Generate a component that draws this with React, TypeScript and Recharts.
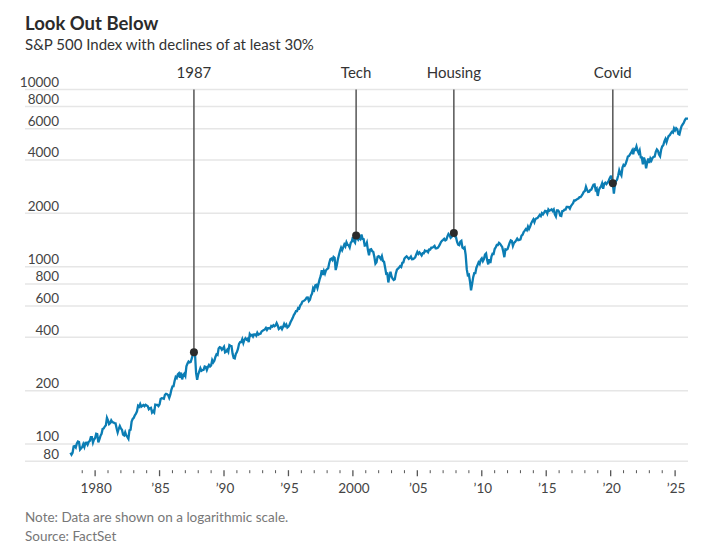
import {
  LineChart,
  Line,
  XAxis,
  YAxis,
  CartesianGrid,
  ReferenceLine,
  ReferenceDot,
} from "recharts";

// S&P 500 month-end closes, starting January 1978
const closes1978to1979 = [
  89.25, 87.04, 89.21, 96.83, 97.24, 95.53, 100.68, 103.29, 102.54, 93.15, 94.7, 96.11,
  99.93, 96.28, 101.59, 101.76, 99.08, 102.91, 103.81, 109.32, 109.32, 101.82, 106.16, 107.94,
];

const closes1980s = [
  114.16, 113.66, 102.09, 106.29, 111.24, 114.24, 121.67, 122.38, 125.46, 127.47, 140.52, 135.76,
  129.55, 131.27, 136.0, 132.81, 132.59, 131.21, 130.92, 122.79, 116.18, 121.89, 126.35, 122.55,
  120.4, 113.11, 111.96, 116.44, 111.88, 109.61, 107.09, 119.51, 120.42, 133.71, 138.54, 140.64,
  145.3, 148.06, 152.96, 164.42, 162.39, 168.11, 162.56, 164.4, 166.07, 163.55, 166.4, 164.93,
  163.41, 157.06, 159.18, 160.05, 150.55, 153.18, 150.66, 166.68, 166.1, 166.09, 163.58, 167.24,
  179.63, 181.18, 180.66, 179.83, 189.55, 191.85, 190.92, 188.63, 182.08, 189.82, 202.17, 211.28,
  211.78, 226.92, 238.9, 235.52, 247.35, 250.84, 236.12, 252.93, 231.32, 243.98, 249.22, 242.17,
  274.08, 284.2, 291.7, 288.36, 290.1, 304.0, 318.66, 329.8, 321.83, 251.79, 230.3, 247.08,
  257.07, 267.82, 258.89, 261.33, 262.16, 273.5, 272.02, 261.52, 271.91, 278.97, 273.7, 277.72,
  297.47, 288.86, 294.87, 309.64, 320.52, 317.98, 346.08, 351.45, 349.15, 340.36, 345.99, 353.4,
];

const closes1990s = [
  329.08, 331.89, 339.94, 330.8, 361.23, 358.02, 356.15, 322.56, 306.05, 304.0, 322.22, 330.22,
  343.93, 367.07, 375.22, 375.35, 389.83, 371.16, 387.81, 395.43, 387.86, 392.46, 375.22, 417.09,
  408.79, 412.7, 403.69, 414.95, 415.35, 408.14, 424.21, 414.03, 417.8, 418.68, 431.35, 435.71,
  438.78, 443.38, 451.67, 440.19, 450.19, 450.53, 448.13, 463.56, 458.93, 467.83, 461.79, 466.45,
  481.61, 467.14, 445.77, 450.91, 456.5, 444.27, 458.26, 475.49, 462.69, 472.35, 453.69, 459.27,
  470.42, 487.39, 500.71, 514.71, 533.4, 544.75, 562.06, 561.88, 584.41, 581.5, 605.37, 615.93,
  636.02, 640.43, 645.5, 654.17, 669.12, 670.63, 639.95, 651.99, 687.31, 705.27, 757.02, 740.74,
  786.16, 790.82, 757.12, 801.34, 848.28, 885.14, 954.29, 899.47, 947.28, 914.62, 955.4, 970.43,
  980.28, 1049.34, 1101.75, 1111.75, 1090.82, 1133.84, 1120.67, 957.28, 1017.01, 1098.67, 1163.63, 1229.23,
  1279.64, 1238.33, 1286.37, 1335.18, 1301.84, 1372.71, 1328.72, 1320.41, 1282.71, 1362.93, 1388.91, 1469.25,
];

const closes2000s = [
  1394.46, 1366.42, 1498.58, 1452.43, 1420.6, 1454.6, 1430.83, 1517.68, 1436.51, 1429.4, 1314.95, 1320.28,
  1366.01, 1239.94, 1160.33, 1249.46, 1255.82, 1224.42, 1211.23, 1133.58, 1040.94, 1059.78, 1139.45, 1148.08,
  1130.2, 1106.73, 1147.39, 1076.92, 1067.14, 989.82, 911.62, 916.07, 815.28, 885.76, 936.31, 879.82,
  855.7, 841.15, 848.18, 916.92, 963.59, 974.5, 990.31, 1008.01, 995.97, 1050.71, 1058.2, 1111.92,
  1131.13, 1144.94, 1126.21, 1107.3, 1120.68, 1140.84, 1101.72, 1104.24, 1114.58, 1130.2, 1173.82, 1211.92,
  1181.27, 1203.6, 1180.59, 1156.85, 1191.5, 1191.33, 1234.18, 1220.33, 1228.81, 1207.01, 1249.48, 1248.29,
  1280.08, 1280.66, 1294.83, 1310.61, 1270.09, 1270.2, 1276.66, 1303.82, 1335.85, 1377.94, 1400.63, 1418.3,
  1438.24, 1406.82, 1420.86, 1482.37, 1530.62, 1503.35, 1455.27, 1473.99, 1526.75, 1549.38, 1481.14, 1468.36,
  1378.55, 1330.63, 1322.7, 1385.59, 1400.38, 1280.0, 1267.38, 1282.83, 1166.36, 968.75, 896.24, 903.25,
  825.88, 735.09, 797.87, 872.81, 919.14, 919.32, 987.48, 1020.62, 1057.08, 1036.19, 1095.63, 1115.1,
];

const closes2010s = [
  1073.87, 1104.49, 1169.43, 1186.69, 1089.41, 1030.71, 1101.6, 1049.33, 1141.2, 1183.26, 1180.55, 1257.64,
  1286.12, 1327.22, 1325.83, 1363.61, 1345.2, 1320.64, 1292.28, 1218.89, 1131.42, 1253.3, 1246.96, 1257.6,
  1312.41, 1365.68, 1408.47, 1397.91, 1310.33, 1362.16, 1379.32, 1406.58, 1440.67, 1412.16, 1416.18, 1426.19,
  1498.11, 1514.68, 1569.19, 1597.57, 1630.74, 1606.28, 1685.73, 1632.97, 1681.55, 1756.54, 1805.81, 1848.36,
  1782.59, 1859.45, 1872.34, 1883.95, 1923.57, 1960.23, 1930.67, 2003.37, 1972.29, 2018.05, 2067.56, 2058.9,
  1994.99, 2104.5, 2067.89, 2085.51, 2107.39, 2063.11, 2103.84, 1972.18, 1920.03, 2079.36, 2080.41, 2043.94,
  1940.24, 1932.23, 2059.74, 2065.3, 2096.95, 2098.86, 2173.6, 2170.95, 2168.27, 2126.15, 2198.81, 2238.83,
  2278.87, 2363.64, 2362.72, 2384.2, 2411.8, 2423.41, 2470.3, 2471.65, 2519.36, 2575.26, 2647.58, 2673.61,
  2823.81, 2713.83, 2640.87, 2648.05, 2705.27, 2718.37, 2816.29, 2901.52, 2913.98, 2711.74, 2760.17, 2506.85,
  2704.1, 2784.49, 2834.4, 2945.83, 2752.06, 2941.76, 2980.38, 2926.46, 2976.74, 3037.56, 3140.98, 3230.78,
];

const closes2020s = [
  3225.52, 2954.22, 2584.59, 2912.43, 3044.31, 3100.29, 3271.12, 3500.31, 3363.0, 3269.96, 3621.63, 3756.07,
  3714.24, 3811.15, 3972.89, 4181.17, 4204.11, 4297.5, 4395.26, 4522.68, 4307.54, 4605.38, 4567.0, 4766.18,
  4515.55, 4373.94, 4530.41, 4131.93, 4132.15, 3785.38, 4130.29, 3955.0, 3585.62, 3871.98, 4080.11, 3839.5,
  4076.6, 3970.15, 4109.31, 4169.48, 4179.83, 4450.38, 4588.96, 4507.66, 4288.05, 4193.8, 4567.8, 4769.83,
  4845.65, 5096.27, 5254.35, 5035.69, 5277.51, 5460.48, 5522.3, 5648.4, 5762.48, 5705.45, 6032.38, 5881.63,
  6040.53, 5954.5, 5611.85, 5569.06, 5911.69, 6204.95, 6339.39, 6460.26, 6688.46, 6840.2, 6849.09, 6845.5,
];

const startYear = 1978;

const yTicks = [80, 100, 200, 400, 600, 800, 1000, 2000, 4000, 6000, 8000, 10000];
const tickYears = Array.from({ length: 2025 - 1979 + 1 }, (_, i) => 1979 + i);

const events = [
  { label: "1987", year: 1987, month: 8 },
  { label: "Tech", year: 2000, month: 3 },
  { label: "Housing", year: 2007, month: 10 },
  { label: "Covid", year: 2020, month: 2 },
];

const closes = [
  ...closes1978to1979,
  ...closes1980s,
  ...closes1990s,
  ...closes2000s,
  ...closes2010s,
  ...closes2020s,
];

// x = year + month/12, so each close sits at the end of its month
const data = closes.map((v, i) => ({ t: startYear + (i + 1) / 12, v }));

const eventPoints = events.map((e) => {
  const p = data[(e.year - startYear) * 12 + e.month - 1];
  return { ...e, t: p.t, v: p.v };
});

const FONT = "Lato, 'Noto Sans', sans-serif";
const BLUE = "#0b7db4";

function yearLabel(y: number) {
  if (y === 1980 || y === 2000) return String(y);
  return "\u2019" + String(y).slice(2);
}

function XTick({ x, y, payload }: any) {
  const yr = payload.value;
  const major = yr % 5 === 0;
  return (
    <g>
      <line
        x1={x}
        x2={x}
        y1={y + 9}
        y2={major ? y + 15 : y + 12}
        stroke="#555"
        strokeWidth={major ? 1.3 : 1}
      />
      {major && (
        <text
          x={x + 1}
          y={y + 31.5}
          textAnchor="middle"
          fontSize={13.5}
          fontFamily={FONT}
          fill="#444"
        >
          {yearLabel(yr)}
        </text>
      )}
    </g>
  );
}

function YTick({ x, y, payload }: any) {
  return (
    <text
      x={x + 34}
      y={y - 2.6}
      textAnchor="end"
      fontSize={13.5}
      fontFamily={FONT}
      fill="#444"
    >
      {payload.value}
    </text>
  );
}

export default function App() {
  return (
    <div
      style={{
        position: "absolute",
        left: 0,
        top: 0,
        width: 704,
        height: 554,
        background: "#fff",
      }}
    >
      <svg
        width={704}
        height={554}
        style={{ position: "absolute", left: 0, top: 0, pointerEvents: "none" }}
      >
        <text x={25} y={29.5} fontSize={18.5} fontWeight={700} fontFamily={FONT} fill="#2b2b2b">
          Look Out Below
        </text>
        <text x={25} y={50} fontSize={15} fontFamily={FONT} fill="#333">
          S&amp;P 500 Index with declines of at least 30%
        </text>
        <text x={25} y={521.7} fontSize={13.5} fontFamily={FONT} fill="#777">
          Note: Data are shown on a logarithmic scale.
        </text>
        <text x={25} y={540.7} fontSize={13.5} fontFamily={FONT} fill="#777">
          Source: FactSet
        </text>
      </svg>
      <div style={{ position: "absolute", left: 0, top: 0 }}>
        <LineChart
          width={704}
          height={554}
          data={data}
          margin={{ top: 89.4, right: 16, left: 25, bottom: 52.8 }}
        >
          <CartesianGrid vertical={false} stroke="#e6e6e6" strokeWidth={1.5} />
          <XAxis
            dataKey="t"
            type="number"
            domain={[1974.56, 2026]}
            ticks={tickYears}
            interval={0}
            allowDataOverflow
            axisLine={false}
            tickLine={false}
            tickSize={0}
            tickMargin={0}
            height={40}
            tick={<XTick />}
          />
          <YAxis
            scale="log"
            domain={[80, 10000]}
            ticks={yTicks}
            interval={0}
            allowDataOverflow
            axisLine={false}
            tickLine={false}
            tickSize={0}
            tickMargin={0}
            mirror
            width={34}
            tick={<YTick />}
          />
          <Line
            type="linear"
            dataKey="v"
            stroke={BLUE}
            strokeWidth={2.3}
            dot={false}
            isAnimationActive={false}
          />
          {eventPoints.map((e) => (
            <ReferenceLine
              key={"l" + e.label}
              segment={[
                { x: e.t, y: e.v },
                { x: e.t, y: 10000 },
              ]}
              stroke="#555"
              strokeWidth={1.5}
              ifOverflow="visible"
            />
          ))}
          {eventPoints.map((e) => (
            <ReferenceDot
              key={"t" + e.label}
              x={e.t}
              y={10000}
              r={0}
              fill="none"
              stroke="none"
              ifOverflow="visible"
              label={{
                value: e.label,
                position: "top",
                offset: 11,
                fontSize: 15,
                fontFamily: FONT,
                fill: "#333",
              }}
            />
          ))}
          {eventPoints.map((e) => (
            <ReferenceDot
              key={"d" + e.label}
              x={e.t}
              y={e.v}
              r={4}
              fill="#2b2b2b"
              stroke="none"
              ifOverflow="visible"
            />
          ))}
        </LineChart>
      </div>
    </div>
  );
}
